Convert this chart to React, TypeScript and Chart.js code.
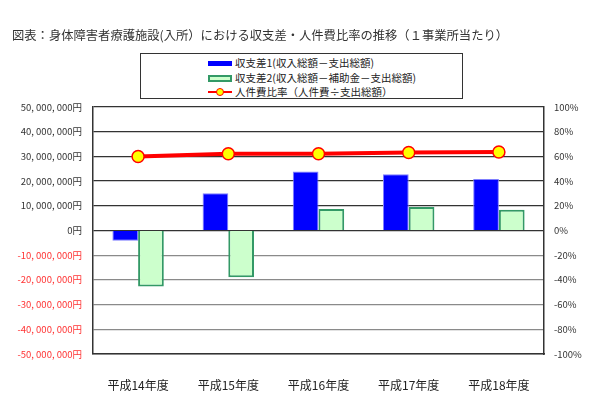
import React, { useEffect, useRef } from "react";
import { Chart, registerables } from "chart.js";

Chart.register(...registerables);

const categories = ["平成14年度", "平成15年度", "平成16年度", "平成17年度", "平成18年度"];
const balance1 = [-4200000, 15100000, 23900000, 22800000, 20800000];
const balance2 = [-22700000, -18900000, 8700000, 9500000, 8400000];
const laborRatio = [59.9, 62.1, 62.1, 63.2, 63.5];

const seriesNames = ["収支差1(収入総額－支出総額)", "収支差2(収入総額－補助金－支出総額)", "人件費比率（人件費÷支出総額）"];
const titleText = "図表：身体障害者療護施設(入所）における収支差・人件費比率の推移（１事業所当たり）";

const leftMin = -50000000;
const leftMax = 50000000;
const leftStep = 10000000;
const rightMin = -100;
const rightMax = 100;
const rightStep = 20;

const FONT = "'Noto Sans CJK JP', 'Noto Sans', sans-serif";

function fmtYen(v: number): string {
  const s = Math.abs(v).toLocaleString("en-US").replace(/,/g, ", ");
  return (v < 0 ? "-" : "") + s + "円";
}

export default function App() {
  const ref = useRef<HTMLCanvasElement | null>(null);

  useEffect(() => {
    document.body.style.margin = "0";
    const canvas = ref.current;
    if (!canvas) return;
    const chart = new Chart(canvas, {
      data: {
        labels: categories,
        datasets: [
          {
            type: "line",
            label: seriesNames[2],
            data: laborRatio,
            yAxisID: "y1",
            borderColor: "#ff0000",
            borderWidth: 4,
            pointBackgroundColor: "#ffff00",
            pointBorderColor: "#ff0000",
            pointBorderWidth: 1.5,
            pointRadius: 6,
            order: 0,
          },
          {
            type: "bar",
            label: seriesNames[0],
            data: balance1,
            yAxisID: "y",
            backgroundColor: "#0000ff",
            borderColor: "#7f7fff",
            borderWidth: 1,
            categoryPercentage: 0.57,
            barPercentage: 1.0,
            order: 1,
          },
          {
            type: "bar",
            label: seriesNames[1],
            data: balance2,
            yAxisID: "y",
            backgroundColor: "#ccffcc",
            borderColor: "#339966",
            borderWidth: 2,
            categoryPercentage: 0.57,
            barPercentage: 1.0,
            order: 1,
          },
        ],
      } as any,
      options: {
        responsive: false,
        animation: false,
        layout: { padding: { left: 12, right: 0, top: 0, bottom: 0 } },
        plugins: {
          legend: { display: false },
          tooltip: { enabled: false },
          title: {
            display: true,
            text: titleText,
            align: "start",
            color: "#333333",
            font: { family: FONT, size: 12.3, weight: "normal" },
            padding: { top: 28, bottom: 64.2 },
          },
        },
        scales: {
          x: {
            grid: { display: false, drawTicks: false },
            border: { display: true, color: "#333333", width: 1.5 },
            ticks: {
              color: "#222222",
              padding: 24,
              font: { family: FONT, size: 12 },
              maxRotation: 0,
            },
            afterFit: (s: any) => {
              s.height = 64;
            },
          },
          y: {
            position: "left",
            min: leftMin,
            max: leftMax,
            ticks: {
              stepSize: leftStep,
              padding: 11,
              font: { family: FONT, size: 9.5 },
              color: (c: any) => (c.tick && c.tick.value < 0 ? "#ff3333" : "#333333"),
              callback: (v: any) => fmtYen(Number(v)),
            },
            grid: {
              drawTicks: false,
              color: (c: any) => (c.tick && c.tick.value < 0 ? "#8a8a8a" : "#333333"),
              lineWidth: 1.2,
            },
            border: { display: true, color: "#333333", width: 1.5 },
            afterFit: (s: any) => {
              s.width = 81;
            },
          },
          y1: {
            position: "right",
            min: rightMin,
            max: rightMax,
            ticks: {
              stepSize: rightStep,
              padding: 10,
              font: { family: FONT, size: 9.5 },
              color: "#333333",
              callback: (v: any) => v + "%",
            },
            grid: { drawOnChartArea: false, drawTicks: false },
            border: { display: true, color: "#333333", width: 1.5 },
            afterFit: (s: any) => {
              s.width = 59;
            },
          },
        },
      } as any,
    });
    return () => chart.destroy();
  }, []);

  const row = (top: number, symbol: React.ReactNode, text: string) => (
    <div style={{ position: "absolute", left: 67, top, height: 14, display: "flex", alignItems: "center" }}>
      <div style={{ width: 24, height: 14, position: "relative", marginRight: 3 }}>{symbol}</div>
      <span style={{ fontFamily: FONT, fontSize: 10.5, color: "#222", whiteSpace: "nowrap", lineHeight: "14px" }}>{text}</span>
    </div>
  );

  return (
    <div style={{ position: "absolute", left: 0, top: 0, width: 603, height: 418, background: "#fff" }}>
      <canvas ref={ref} width={603} height={418} style={{ display: "block" }} />
      <div
        style={{
          position: "absolute",
          left: 140,
          top: 53,
          width: 323,
          height: 46,
          border: "1px solid #333",
          background: "#fff",
          boxSizing: "border-box",
        }}
      >
        {row(2, <div style={{ position: "absolute", left: 0, top: 4.5, width: 24, height: 5, background: "#0000ff" }} />, seriesNames[0])}
        {row(17, <div style={{ position: "absolute", left: 0, top: 3.5, width: 24, height: 7, background: "#ccffcc", border: "2px solid #339966", boxSizing: "border-box" }} />, seriesNames[1])}
        {row(31, (
          <>
            <div style={{ position: "absolute", left: 0, top: 6, width: 24, height: 2, background: "#ff0000" }} />
            <div style={{ position: "absolute", left: 8, top: 3, width: 8, height: 8, borderRadius: "50%", background: "#ffff00", border: "1.5px solid #ff0000", boxSizing: "border-box" }} />
          </>
        ), seriesNames[2])}
      </div>
    </div>
  );
}
